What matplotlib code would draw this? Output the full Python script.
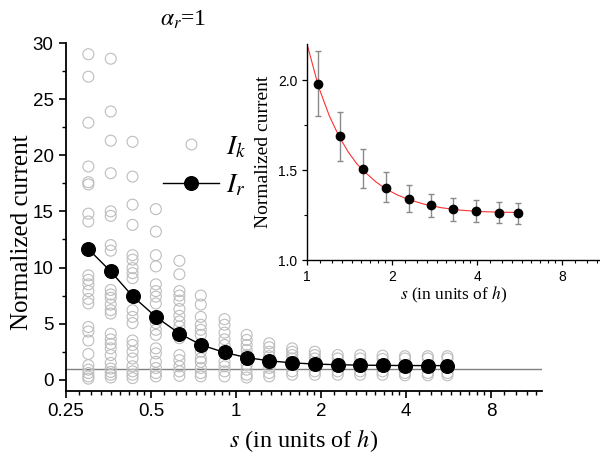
import matplotlib
matplotlib.use("Agg")
import matplotlib.pyplot as plt
from matplotlib.ticker import FixedLocator, FixedFormatter, MultipleLocator, FormatStrFormatter
from matplotlib.lines import Line2D

plt.rcParams['mathtext.fontset'] = 'stix'
plt.rcParams['font.family'] = ['Liberation Sans', 'DejaVu Sans']

# ---------------- data ----------------
s_values = [0.30, 0.36, 0.43, 0.52, 0.63, 0.75, 0.91, 1.09, 1.31, 1.58,
            1.90, 2.29, 2.75, 3.30, 3.96, 4.77, 5.6]

ik_columns = [
    [29.0, 27.0, 22.9, 19.0, 17.6, 17.4, 14.8, 14.1, 9.3, 8.9, 8.5, 7.9, 7.2, 6.8,
     4.7, 4.3, 3.5, 2.3, 1.3, 0.9, 0.6, 0.3, 0.1],
    [28.6, 23.9, 21.3, 18.4, 15.0, 14.6, 12.0, 11.5, 8.0, 7.6, 7.3, 6.7, 6.2, 5.9,
     4.1, 3.6, 3.2, 2.8, 2.2, 1.5, 1.0, 0.7, 0.45, 0.2],
    [21.2, 18.1, 15.6, 13.8, 11.1, 10.7, 9.95, 9.5, 9.05, 6.2, 5.6, 5.05,
     3.5, 3.1, 2.5, 1.9, 1.2, 0.75, 0.45, 0.15],
    [15.2, 13.2, 11.1, 10.1, 8.5, 7.9, 7.4, 6.8, 5.05, 4.45, 4.0, 2.8, 2.35,
     1.6, 1.05, 0.6, 0.3],
    [10.6, 9.4, 7.9, 7.5, 7.05, 6.3, 5.7, 5.2, 4.75, 3.7, 2.2, 1.75, 1.2, 0.75, 0.35],
    [7.5, 6.7, 5.6, 4.9, 4.45, 4.0, 2.5, 1.9, 1.6, 1.05, 0.6, 0.3],
    [5.4, 4.9, 4.2, 3.6, 3.1, 1.6, 1.2, 0.75, 0.3],
    [4.0, 3.55, 3.1, 2.65, 2.2, 1.35, 0.9, 0.45, 0.2],
    [3.25, 2.9, 2.5, 2.1, 1.05, 0.6, 0.3],
    [2.8, 2.5, 2.2, 1.9, 0.75, 0.45],
    [2.5, 2.2, 1.9, 0.75, 0.45],
    [2.2, 1.9, 0.75, 0.45],
    [2.2, 1.9, 0.75, 0.45],
    [2.15, 1.85, 0.75, 0.45],
    [2.1, 1.9, 0.6, 0.4],
    [2.1, 1.9, 0.6, 0.4],
    [2.1, 1.9, 0.6, 0.4],
]

ir_values = [11.64, 9.65, 7.45, 5.61, 4.12, 3.12, 2.43, 1.98, 1.687, 1.507,
             1.40, 1.34, 1.304, 1.282, 1.27, 1.263, 1.26]

# inset: the last ten points with error bars
inset_start = 7
err_upper = [2.16, 1.82, 1.615, 1.49, 1.415, 1.368, 1.343, 1.332, 1.32, 1.314]
err_lower = [1.80, 1.55, 1.40, 1.32, 1.267, 1.237, 1.217, 1.21, 1.206, 1.20]

fit_s = [1.0, 1.1, 1.2, 1.3, 1.4, 1.5, 1.6, 1.75, 1.9, 2.1, 2.3, 2.6, 3.0, 3.5,
         4.0, 4.7, 5.6]
fit_y = [2.20, 1.96, 1.80, 1.685, 1.60, 1.535, 1.49, 1.435, 1.395, 1.36, 1.335,
         1.31, 1.29, 1.277, 1.27, 1.266, 1.264]

main_xticks = [0.25, 0.5, 1, 2, 4, 8]
main_xticklabels = ['0.25', '0.5', '1', '2', '4', '8']
inset_xticks = [1, 2, 4, 8]
inset_xticklabels = ['1', '2', '4', '8']

# ---------------- figure ----------------
fig = plt.figure(figsize=(6.0, 4.59), dpi=100)
W, H = 600, 459

ax = fig.add_axes([66 / W, 1 - 391 / H, (542 - 66) / W, (391 - 43) / H])

serif = ['Liberation Serif', 'DejaVu Serif']


def minor_log2(lo, hi):
    out = []
    b = 0.125
    while b < hi:
        for k in range(1, 9):
            v = b * (1 + k / 9)
            if lo < v < hi:
                out.append(v)
        b *= 2
    return out


# open circles I_k
for s, col in zip(s_values, ik_columns):
    ax.scatter([s] * len(col), col, s=62, facecolors='none',
               edgecolors='#bdbdbd', linewidths=0.8, zorder=2)

ax.axhline(1.0, color='#808080', lw=1.0, zorder=1)

ax.plot(s_values, ir_values, color='black', lw=1.0, marker='o', ms=9.8,
        mfc='black', mec='black', zorder=3)

ax.set_xscale('log', base=2)
ax.set_xlim(0.25, 12.1)
ax.set_ylim(-1, 30)
ax.xaxis.set_major_locator(FixedLocator(main_xticks))
ax.xaxis.set_major_formatter(FixedFormatter(main_xticklabels))
ax.xaxis.set_minor_locator(FixedLocator(minor_log2(0.25, 12.1)))
ax.xaxis.set_minor_formatter(FixedFormatter([]))
ax.yaxis.set_major_locator(MultipleLocator(5))
ax.yaxis.set_minor_locator(MultipleLocator(2.5))
for sp in ['top', 'right']:
    ax.spines[sp].set_visible(False)
for sp in ['left', 'bottom']:
    ax.spines[sp].set_linewidth(1.3)
ax.tick_params(which='major', direction='out', length=5, width=1.2,
               labelsize=13.5, pad=4)
ax.tick_params(which='minor', direction='out', length=3, width=1.0)

ax.set_xlabel(r'$s$ (in units of $h$)', family=serif, fontsize=17.5)
ax.xaxis.set_label_coords(0.5, -0.105)
ax.set_ylabel('Normalized current', family=serif, fontsize=18)
ax.yaxis.set_label_coords(-0.07, 0.455)

fig.text(183 / W, 1 - 20 / H, r'$\alpha_r$=1', family=serif, fontsize=17,
         ha='center', va='center')

h_k = Line2D([], [], ls='none', marker='o', ms=7.8, mfc='none', mec='#bdbdbd',
             mew=0.8)
h_r = Line2D([], [], color='black', lw=1.0, marker='o', ms=9.8, mfc='black',
             mec='black')
leg = ax.legend([h_k, h_r], [r'$I_k$', r'$I_r$'], loc='upper left',
                bbox_to_anchor=(163 / W, 1 - 134 / H),
                bbox_transform=fig.transFigure, frameon=False,
                prop={'size': 20}, numpoints=1, handlelength=2.0,
                handletextpad=0.25, labelspacing=0.45, borderpad=0,
                borderaxespad=0)

# ---------------- inset ----------------
ax2 = fig.add_axes([307 / W, 1 - 260 / H, (600 - 307) / W, (260 - 44) / H])
ax2.set_facecolor('white')
ins_s = s_values[inset_start:]
ins_y = ir_values[inset_start:]
yerr = [[m - lo for m, lo in zip(ins_y, err_lower)],
        [hi - m for m, hi in zip(ins_y, err_upper)]]
ax2.plot(fit_s, fit_y, color='#ff3030', lw=0.8, zorder=2)
ax2.errorbar(ins_s, ins_y, yerr=yerr, fmt='none', ecolor='#8a8a8a',
             elinewidth=1.0, capsize=2, capthick=1.0, zorder=1)
ax2.plot(ins_s, ins_y, ls='none', marker='o', ms=6, mfc='black', mec='black',
         zorder=3)

ax2.set_xscale('log', base=2)
ax2.set_xlim(1, 10.9)
ax2.set_ylim(1.0, 2.2)
ax2.xaxis.set_major_locator(FixedLocator(inset_xticks))
ax2.xaxis.set_major_formatter(FixedFormatter(inset_xticklabels))
ax2.xaxis.set_minor_locator(FixedLocator(minor_log2(1, 10.9)))
ax2.xaxis.set_minor_formatter(FixedFormatter([]))
ax2.yaxis.set_major_locator(MultipleLocator(0.5))
ax2.yaxis.set_minor_locator(MultipleLocator(0.25))
ax2.yaxis.set_major_formatter(FormatStrFormatter('%.1f'))
for sp in ['top', 'right']:
    ax2.spines[sp].set_visible(False)
for sp in ['left', 'bottom']:
    ax2.spines[sp].set_linewidth(1.0)
ax2.tick_params(which='major', direction='out', length=3.5, width=0.9,
                labelsize=10)
ax2.tick_params(which='minor', direction='out', length=2, width=0.8)
ax2.set_xlabel(r'$s$ (in units of $h$)', family=serif, fontsize=12.5, labelpad=1)
ax2.set_ylabel('Normalized current', family=serif, fontsize=14, labelpad=4)

fig.savefig('out.png', dpi=100)
